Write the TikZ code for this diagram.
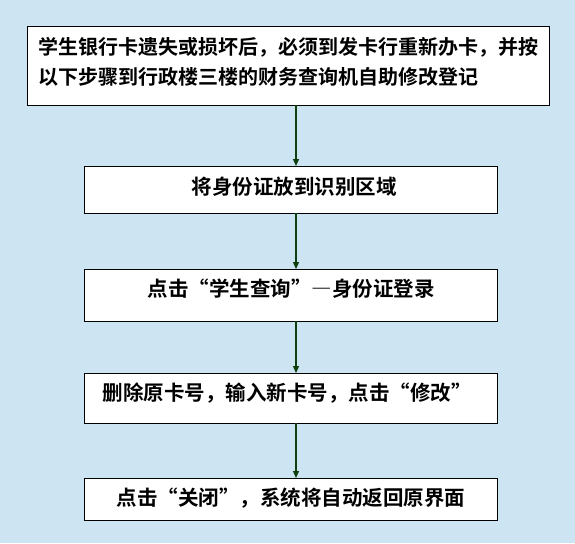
\documentclass[tikz,border=0pt]{standalone}
\usepackage{fontspec}
\newfontfamily\cjk[CharacterWidth=Full]{Noto Sans CJK SC Bold}
\usetikzlibrary{arrows.meta}
\definecolor{bgblue}{HTML}{CDE4F3}
\definecolor{arrgreen}{HTML}{0F3F0F}
\begin{document}
\begin{tikzpicture}[x=1pt,y=-1pt,
  stepbox/.style={draw=black,line width=0.9pt,fill=white,inner sep=0pt,anchor=north west},
  lbl/.style={font=\cjk\fontsize{20.5}{30}\selectfont,inner sep=0pt},
  lblone/.style={font=\cjk\fontsize{20}{30}\selectfont,inner sep=0pt,anchor=west},
  conn/.style={draw=arrgreen,line width=1.3pt,-{Triangle[length=7pt,width=6pt]}}]
\fill[bgblue] (0,0) rectangle (575,543);
\useasboundingbox (0,0) rectangle (575,543);
% boxes
\node[stepbox,minimum width=522pt,minimum height=79pt] (b1) at (27,26) {};
\node[stepbox,minimum width=413pt,minimum height=47pt] (b2) at (84,166) {};
\node[stepbox,minimum width=413pt,minimum height=52pt] (b3) at (84,269) {};
\node[stepbox,minimum width=413pt,minimum height=50pt] (b4) at (84,373) {};
\node[stepbox,minimum width=413pt,minimum height=42pt] (b5) at (84,478) {};
% texts
\node[lblone] (t1a) at (38.5,47) {学生银行卡遗失或损坏后，必须到发卡行重新办卡，并按};
\node[lblone] (t1b) at (38.5,77) {以下步骤到行政楼三楼的财务查询机自助修改登记};
\node[lbl] (t2) at (294,187) {将身份证放到识别区域};
\node[lbl] (t3) at (291,289) {点击“学生查询”—身份证登录};
\node[lbl] (t4) at (287,393) {删除原卡号，输入新卡号，点击“修改”};
\node[lbl] (t5) at (291,498) {点击“关闭”，系统将自动返回原界面};
% connectors
\coordinate (a1) at (296,105);
\coordinate (a2) at (296,213);
\coordinate (a3) at (296,321);
\coordinate (a4) at (296,423);
\draw[conn] (a1) -- (a1 |- b2.north);
\draw[conn] (a2) -- (a2 |- b3.north);
\draw[conn] (a3) -- (a3 |- b4.north);
\draw[conn] (a4) -- (a4 |- b5.north);
\end{tikzpicture}
\end{document}
